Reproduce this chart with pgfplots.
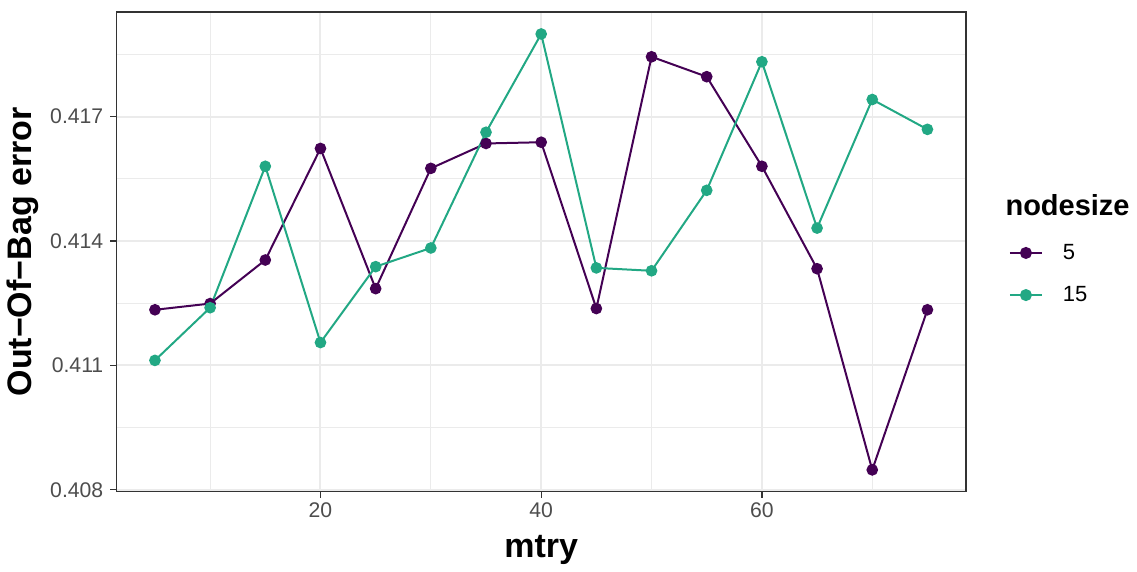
\documentclass[border=0pt]{standalone}
\usepackage{pgfplots}
\pgfplotsset{compat=1.18}
\usepackage{fontspec}
\setmainfont{Liberation Sans}
\definecolor{c5}{HTML}{440154}
\definecolor{c15}{HTML}{22A884}
\definecolor{gridc}{HTML}{EBEBEB}
\definecolor{tickc}{HTML}{4D4D4D}
\definecolor{framec}{HTML}{333333}
\begin{document}
\begin{tikzpicture}
\path (-58pt,-35.5pt) rectangle (510.5pt,246pt);
\begin{axis}[
  scale only axis, width=425pt, height=240pt,
  clip=false,
  xmin=1.5, xmax=78.5, ymin=0.40795, ymax=0.41952,
  xtick={20,40,60}, minor xtick={10,30,50,70},
  ytick={0.408,0.411,0.414,0.417}, minor ytick={0.4095,0.4125,0.4155,0.4185},
  yticklabels={0.408,0.411,0.414,0.417},
  scaled y ticks=false,
  grid=both,
  major grid style={gridc, line width=1pt},
  minor grid style={gridc, line width=0.5pt},
  axis line style={framec, line width=0.6pt},
  tick align=outside, tick pos=left,
  major tick length=3pt, minor tick length=0pt,
  tick style={framec, line width=0.6pt},
  ticklabel style={font=\fontsize{10.6}{12}\selectfont, text=tickc},
  xticklabel style={yshift=1pt},
  /pgf/number format/assume math mode=true,
  xlabel={\textbf{mtry}}, ylabel={\textbf{Out−Of−Bag error}},
  label style={font=\fontsize{17}{19}\selectfont},
  xlabel style={yshift=-2pt},
  ylabel style={yshift=-1pt},
  legend style={at={(rel axis cs:1.050,0.454)}, anchor=west, draw=none, fill=none,
    font=\fontsize{11}{13}\selectfont, row sep=8pt, column sep=6pt, inner sep=0pt,
    nodes={inner xsep=4pt}},
  legend cell align=left,
  legend image code/.code={\draw[#1, line width=1pt] (0pt,0pt) -- (16pt,0pt); \fill[#1] (8pt,0pt) circle (2.5pt);},
]
\addplot[c5, line width=1pt, mark=*, mark size=2.4pt] coordinates {
(5,0.41234) (10,0.41249) (15,0.41354) (20,0.41623) (25,0.41285) (30,0.41575) (35,0.41635) (40,0.41638) (45,0.41237) (50,0.41844) (55,0.41796) (60,0.41580) (65,0.41333) (70,0.40848) (75,0.41234)};
\addlegendentry{5}
\addplot[c15, line width=1pt, mark=*, mark size=2.4pt] coordinates {
(5,0.41112) (10,0.41239) (15,0.41580) (20,0.41155) (25,0.41338) (30,0.41383) (35,0.41662) (40,0.41899) (45,0.41335) (50,0.41328) (55,0.41522) (60,0.41832) (65,0.41431) (70,0.41741) (75,0.41669)};
\addlegendentry{15}
\node[anchor=west, font=\fontsize{14.5}{16}\selectfont\bfseries, inner sep=0pt] at (rel axis cs:1.046,0.598) {nodesize};
\end{axis}
\end{tikzpicture}
\end{document}
